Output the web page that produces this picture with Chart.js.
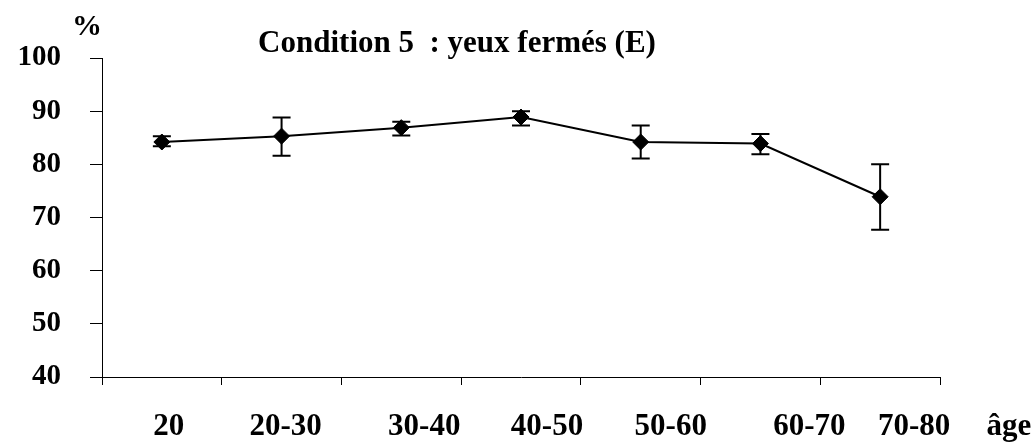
<!DOCTYPE html>
<html>
<head>
<meta charset="utf-8">
<script src="https://cdn.jsdelivr.net/npm/chart.js@4"></script>
<style>
  body { margin: 0; background: #fff; }
  #wrap { width: 1036px; height: 443px; }
</style>
</head>
<body>
<div id="wrap"><canvas id="chart"></canvas></div>
<script>
const ageGroups = ["20", "20-30", "30-40", "40-50", "50-60", "60-70", "70-80"];
const scores = [84.2, 85.3, 86.9, 88.9, 84.2, 83.9, 73.9];
const errHigh = [85.3, 88.8, 88.0, 90.0, 87.3, 85.7, 80.0];
const errLow = [83.4, 81.6, 85.4, 87.3, 81.1, 81.9, 67.7];
const yTicks = [40, 50, 60, 70, 80, 90, 100];

// the age labels sit a little right of the category centres in the original
const labelShift = [7, 4, 23, 26, 30, 49, 34];
const serif = "'Liberation Serif', 'Times New Roman', serif";

const errorBars = {
    id: "errorBars",
    beforeDatasetsDraw(chart) {
        const ctx = chart.ctx, x = chart.scales.x, y = chart.scales.y;
        ctx.save();
        ctx.strokeStyle = "#000";
        ctx.lineWidth = 2;
        scores.forEach((v, i) => {
            const px = x.getPixelForValue(i);
            const top = y.getPixelForValue(errHigh[i]);
            const bot = y.getPixelForValue(errLow[i]);
            ctx.beginPath();
            ctx.moveTo(px, top); ctx.lineTo(px, bot);
            ctx.moveTo(px - 9, top); ctx.lineTo(px + 9, top);
            ctx.moveTo(px - 9, bot); ctx.lineTo(px + 9, bot);
            ctx.stroke();
        });
        ctx.restore();
    }
};

const texts = {
    id: "texts",
    afterDraw(chart) {
        const ctx = chart.ctx, area = chart.chartArea, x = chart.scales.x;
        ctx.save();
        ctx.fillStyle = "#000";
        ctx.textAlign = "center";
        ctx.textBaseline = "alphabetic";

        ctx.font = "bold 31px " + serif;
        ctx.fillText("Condition 5  : yeux fermés (E)", area.left + 355, 52);

        ctx.font = "bold 30px " + serif;
        ctx.fillText("%", area.left - 15, 35);

        ctx.font = "bold 31px " + serif;
        ageGroups.forEach((g, i) => {
            ctx.fillText(g, x.getPixelForValue(i) + labelShift[i], area.bottom + 58);
        });
        ctx.fillText("âge", area.right + 69, area.bottom + 58);
        ctx.restore();
    }
};

new Chart(document.getElementById("chart").getContext("2d"), {
    type: "line",
    data: {
        labels: ageGroups,
        datasets: [{
            label: "Condition 5",
            data: scores,
            borderColor: "#000",
            borderWidth: 2,
            backgroundColor: "#000",
            pointStyle: "rectRot",
            pointRadius: 8,
            pointBorderWidth: 1,
            tension: 0
        }]
    },
    options: {
        responsive: true,
        maintainAspectRatio: false,
        animation: false,
        layout: { padding: { top: 58, right: 96, bottom: 0, left: 0 } },
        plugins: {
            legend: { display: false },
            tooltip: { enabled: false }
        },
        scales: {
            x: {
                offset: true,
                grid: { offset: true, drawOnChartArea: false, tickLength: 8, color: "#000" },
                border: { color: "#000", width: 1 },
                ticks: { display: false },
                afterFit: s => { s.height = 66; }
            },
            y: {
                min: 40,
                max: 100,
                grid: { drawOnChartArea: false, tickLength: 12, color: "#000" },
                border: { color: "#000", width: 1 },
                ticks: {
                    color: "#000",
                    padding: 29,
                    font: { family: serif, size: 29, weight: "bold" }
                },
                afterBuildTicks: s => { s.ticks = yTicks.map(v => ({ value: v })); },
                afterFit: s => { s.width = 102; }
            }
        }
    },
    plugins: [errorBars, texts]
});
</script>
</body>
</html>
